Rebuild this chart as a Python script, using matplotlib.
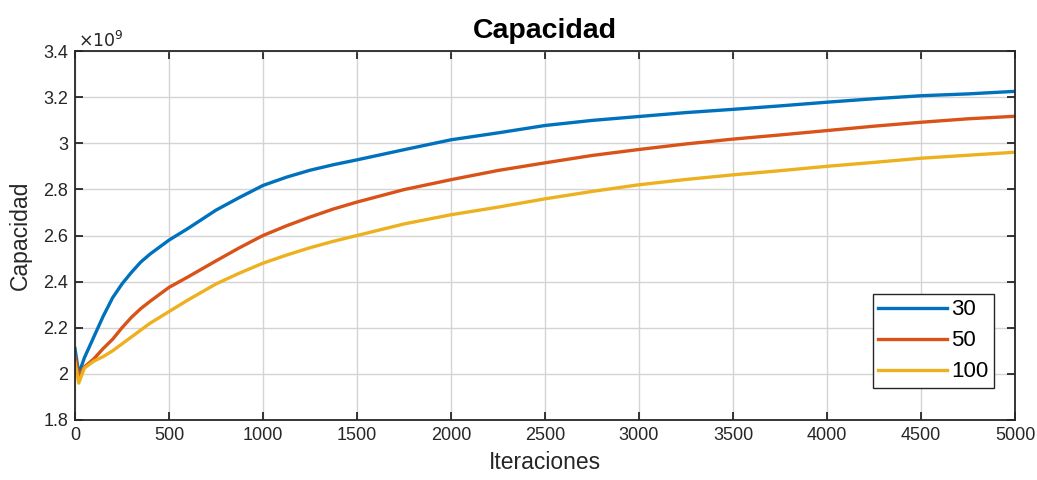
import matplotlib.pyplot as plt
from matplotlib.ticker import FormatStrFormatter

plt.rcParams['font.family'] = ['Liberation Sans', 'DejaVu Sans']

# iteraciones donde se leyeron los valores
iters = [0, 20, 50, 100, 150, 200, 250, 300, 350, 400, 500, 600, 750, 875, 1000, 1125, 1250,
         1375, 1500, 1750, 2000, 2250, 2500, 2750, 3000, 3250, 3500, 3750, 4000, 4250, 4500,
         4750, 5000]

# capacidad en unidades de 1e9
cap_30 = [2.11, 2.00, 2.07, 2.16, 2.25, 2.33, 2.39, 2.44, 2.485, 2.52, 2.58, 2.63, 2.71, 2.765,
          2.817, 2.853, 2.883, 2.907, 2.928, 2.972, 3.015, 3.045, 3.077, 3.099, 3.116, 3.133,
          3.147, 3.162, 3.178, 3.193, 3.206, 3.214, 3.225]
cap_50 = [2.075, 1.99, 2.03, 2.065, 2.11, 2.15, 2.20, 2.245, 2.283, 2.315, 2.375, 2.42, 2.49,
          2.547, 2.60, 2.642, 2.68, 2.715, 2.745, 2.799, 2.842, 2.882, 2.915, 2.947, 2.973,
          2.997, 3.018, 3.036, 3.055, 3.074, 3.091, 3.106, 3.117]
cap_100 = [2.05, 1.96, 2.025, 2.055, 2.075, 2.10, 2.13, 2.16, 2.19, 2.22, 2.27, 2.32, 2.39,
           2.437, 2.48, 2.515, 2.547, 2.575, 2.60, 2.65, 2.69, 2.723, 2.759, 2.791, 2.82,
           2.843, 2.863, 2.881, 2.90, 2.917, 2.935, 2.948, 2.961]

fig = plt.figure(figsize=(10.37, 4.8), dpi=100)
ax = fig.add_axes([75 / 1037, 60 / 480, 940 / 1037, 369 / 480])

ax.plot(iters, cap_30, color='#0072BD', lw=2.4, label='30')
ax.plot(iters, cap_50, color='#D95319', lw=2.4, label='50')
ax.plot(iters, cap_100, color='#EDB120', lw=2.4, label='100')

ax.set_xlim(0, 5000)
ax.set_ylim(1.8, 3.4)
ax.set_xticks(range(0, 5001, 500))
ax.set_yticks([1.8, 2.0, 2.2, 2.4, 2.6, 2.8, 3.0, 3.2, 3.4])
ax.yaxis.set_major_formatter(FormatStrFormatter('%g'))
ax.grid(True, color='#d4d4d4', lw=1.0)
ax.set_axisbelow(True)
ax.tick_params(direction='in', length=6, width=1.3, top=True, right=True,
               labelsize=13, colors='#262626', pad=5)
for s in ax.spines.values():
    s.set_linewidth(1.3)
    s.set_color('#262626')

ax.text(0.003, 1.004, r'$\times10^{9}$', transform=ax.transAxes, fontsize=12.5,
        color='#262626', va='bottom', ha='left')
ax.set_title('Capacidad', fontsize=20.5, fontweight='bold', pad=9)
ax.set_xlabel('Iteraciones', fontsize=16.5, color='#262626', labelpad=5)
ax.set_ylabel('Capacidad', fontsize=16.5, color='#262626', labelpad=8)

leg = ax.legend(loc='lower right', bbox_to_anchor=(0.978, 0.087), fontsize=16,
                handlelength=3.1, fancybox=False, framealpha=1, edgecolor='#262626',
                borderpad=0.25, labelspacing=0.45, handletextpad=0.2, borderaxespad=0)
leg.get_frame().set_linewidth(1.0)

fig.savefig('out.png', dpi=100)
